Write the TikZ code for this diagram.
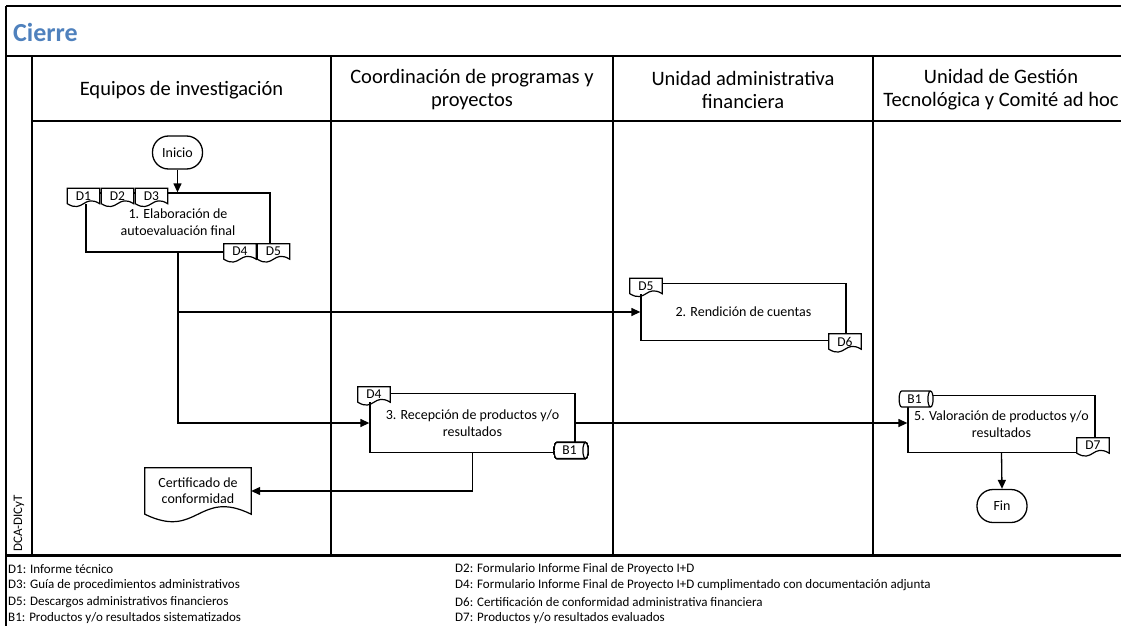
\documentclass[tikz,border=0pt]{standalone}
\usepackage{fontspec}
\setmainfont{Carlito}
\usetikzlibrary{arrows.meta,shapes.geometric,calc}

\definecolor{cierreblue}{RGB}{79,129,189}

% outline of a document symbol around a node: straight top and sides, wavy bottom
\newcommand{\docframe}[2]{%
  \path[draw,line width=1.2pt] (#1.south west) -- (#1.north west) -- (#1.north east) -- (#1.south east)
    .. controls ([yshift=#2]$(#1.south east)!0.5!(#1.south west)$)
    and ([yshift=-#2]$(#1.south east)!0.5!(#1.south west)$) .. (#1.south west) -- cycle;}

\begin{document}
\begin{tikzpicture}[x=1pt,y=-1pt,
  lane/.style={line width=1.5pt},
  hdr/.style={align=center,font=\fontsize{20.5}{23}\selectfont},
  activity/.style={draw,line width=1.3pt,align=center,inner sep=0pt,font=\fontsize{14}{17}\selectfont},
  terminal/.style={draw,line width=1.3pt,rounded corners=16pt,minimum width=50pt,minimum height=33pt,inner sep=0pt,font=\fontsize{14}{17}\selectfont},
  doctag/.style={fill=white,inner sep=0pt,minimum width=32pt,minimum height=15pt,font=\fontsize{13.5}{15}\selectfont},
  dbtag/.style={cylinder,draw,fill=white,line width=1.2pt,shape aspect=0.6,inner sep=0pt,minimum width=16pt,minimum height=34pt,font=\fontsize{13.5}{15}\selectfont},
  flow/.style={line width=1.3pt,-{Triangle[length=9pt,width=8pt]}},
  legend/.style={anchor=west,inner sep=0pt,font=\fontsize{13}{15}\selectfont}]
\useasboundingbox (0,0) rectangle (1121,626);
\clip (0,0) rectangle (1121,626);

% pool and lanes
\draw[line width=2.5pt] (6,6) -- (1140,6);
\draw[lane] (6,6) -- (6,626);
\draw[lane] (6,56) -- (1140,56);
\draw[lane] (32,121) -- (1140,121);
\foreach \x in {32,331,613,873}
  \draw[lane] (\x,56) -- (\x,555);
\draw[line width=3pt] (6,555) -- (1140,555);

\node[anchor=west,inner sep=0pt,text=cierreblue,font=\fontsize{26}{30}\selectfont\bfseries] (title) at (13,32) {Cierre};
\node[rotate=90,anchor=west,inner sep=0pt,font=\fontsize{13}{15}\selectfont] (pool) at (19,552) {DCA-DICyT};

\node[hdr] (lane1) at (181.5,90) {Equipos de investigación};
\node[hdr] (lane2) at (472,90) {Coordinación de programas y\\proyectos};
\node[hdr] (lane3) at (743,90) {Unidad administrativa\\financiera};
\node[hdr] (lane4) at (1001,90) {Unidad de Gestión\\Tecnológica y Comité ad hoc};

% activities
\node[terminal] (inicio) at (177.5,152.5) {Inicio};
\node[activity,minimum width=184pt,minimum height=59pt] (act1) at (178,222.5) {1. Elaboración de\\autoevaluación final};
\node[activity,minimum width=205pt,minimum height=57pt] (act2) at (743.5,312) {2. Rendición de cuentas};
\node[activity,minimum width=205pt,minimum height=59pt] (act3) at (472.5,423) {3. Recepción de productos y/o\\resultados};
\node[activity,minimum width=187pt,minimum height=57pt] (act5) at (1001.5,424) {5. Valoración de productos y/o\\resultados};
\node[terminal] (fin) at (1002,506) {Fin};
\node[inner sep=0pt,minimum width=106pt,minimum height=46pt,align=center,font=\fontsize{14}{16}\selectfont] (cert) at (198,491) {Certificado de\\conformidad};
\docframe{cert}{26pt}

% connectors
\coordinate (split) at (act1.south |- act2.west);
\path[draw,flow] (inicio.south) -- (act1.north -| inicio.south);
\path[draw,flow] (act1.south) |- (act3.west);
\path[draw,flow] (split) -- (act2.west);
\path[draw,flow] (act3.east) -- (act3.east -| act5.west);
\path[draw,flow] (act3.south) |- (cert.east);
\path[draw,flow] (act5.south) -- (fin.north);

% documents and stores
\node[doctag] (d1) at (83.5,196) {D1};
\node[doctag] (d2) at (117.5,196) {D2};
\node[doctag] (d3) at (151.5,196) {D3};
\node[doctag] (d4) at (240,251.5) {D4};
\node[doctag] (d5) at (273.5,251.5) {D5};
\node[doctag] (d5b) at (646,286) {D5};
\node[doctag] (d6) at (845,341.5) {D6};
\node[doctag] (d4b) at (374,394.5) {D4};
\node[doctag] (d7) at (1093,445.5) {D7};
\foreach \d in {d1,d2,d3,d4,d5,d5b,d6,d4b,d7}
  \docframe{\d}{10pt}
\node[dbtag] (b1) at (569.5,450.5) {B1};
\node[dbtag] (b1b) at (914.5,399) {B1};

% legend
\node[legend] (l1) at (8,569) {D1: Informe técnico};
\node[legend] (l3) at (8,585.5) {D3: Guía de procedimientos administrativos};
\node[legend] (l5) at (8,602) {D5: Descargos administrativos financieros};
\node[legend] (lb1) at (8,618.5) {B1: Productos y/o resultados sistematizados};
\node[legend] (l2) at (455,569) {D2: Formulario Informe Final de Proyecto I+D};
\node[legend] (l4) at (455,585.5) {D4: Formulario Informe Final de Proyecto I+D cumplimentado con documentación adjunta};
\node[legend] (l6) at (455,602) {D6: Certificación de conformidad administrativa financiera};
\node[legend] (l7) at (455,618.5) {D7: Productos y/o resultados evaluados};
\end{tikzpicture}
\end{document}
